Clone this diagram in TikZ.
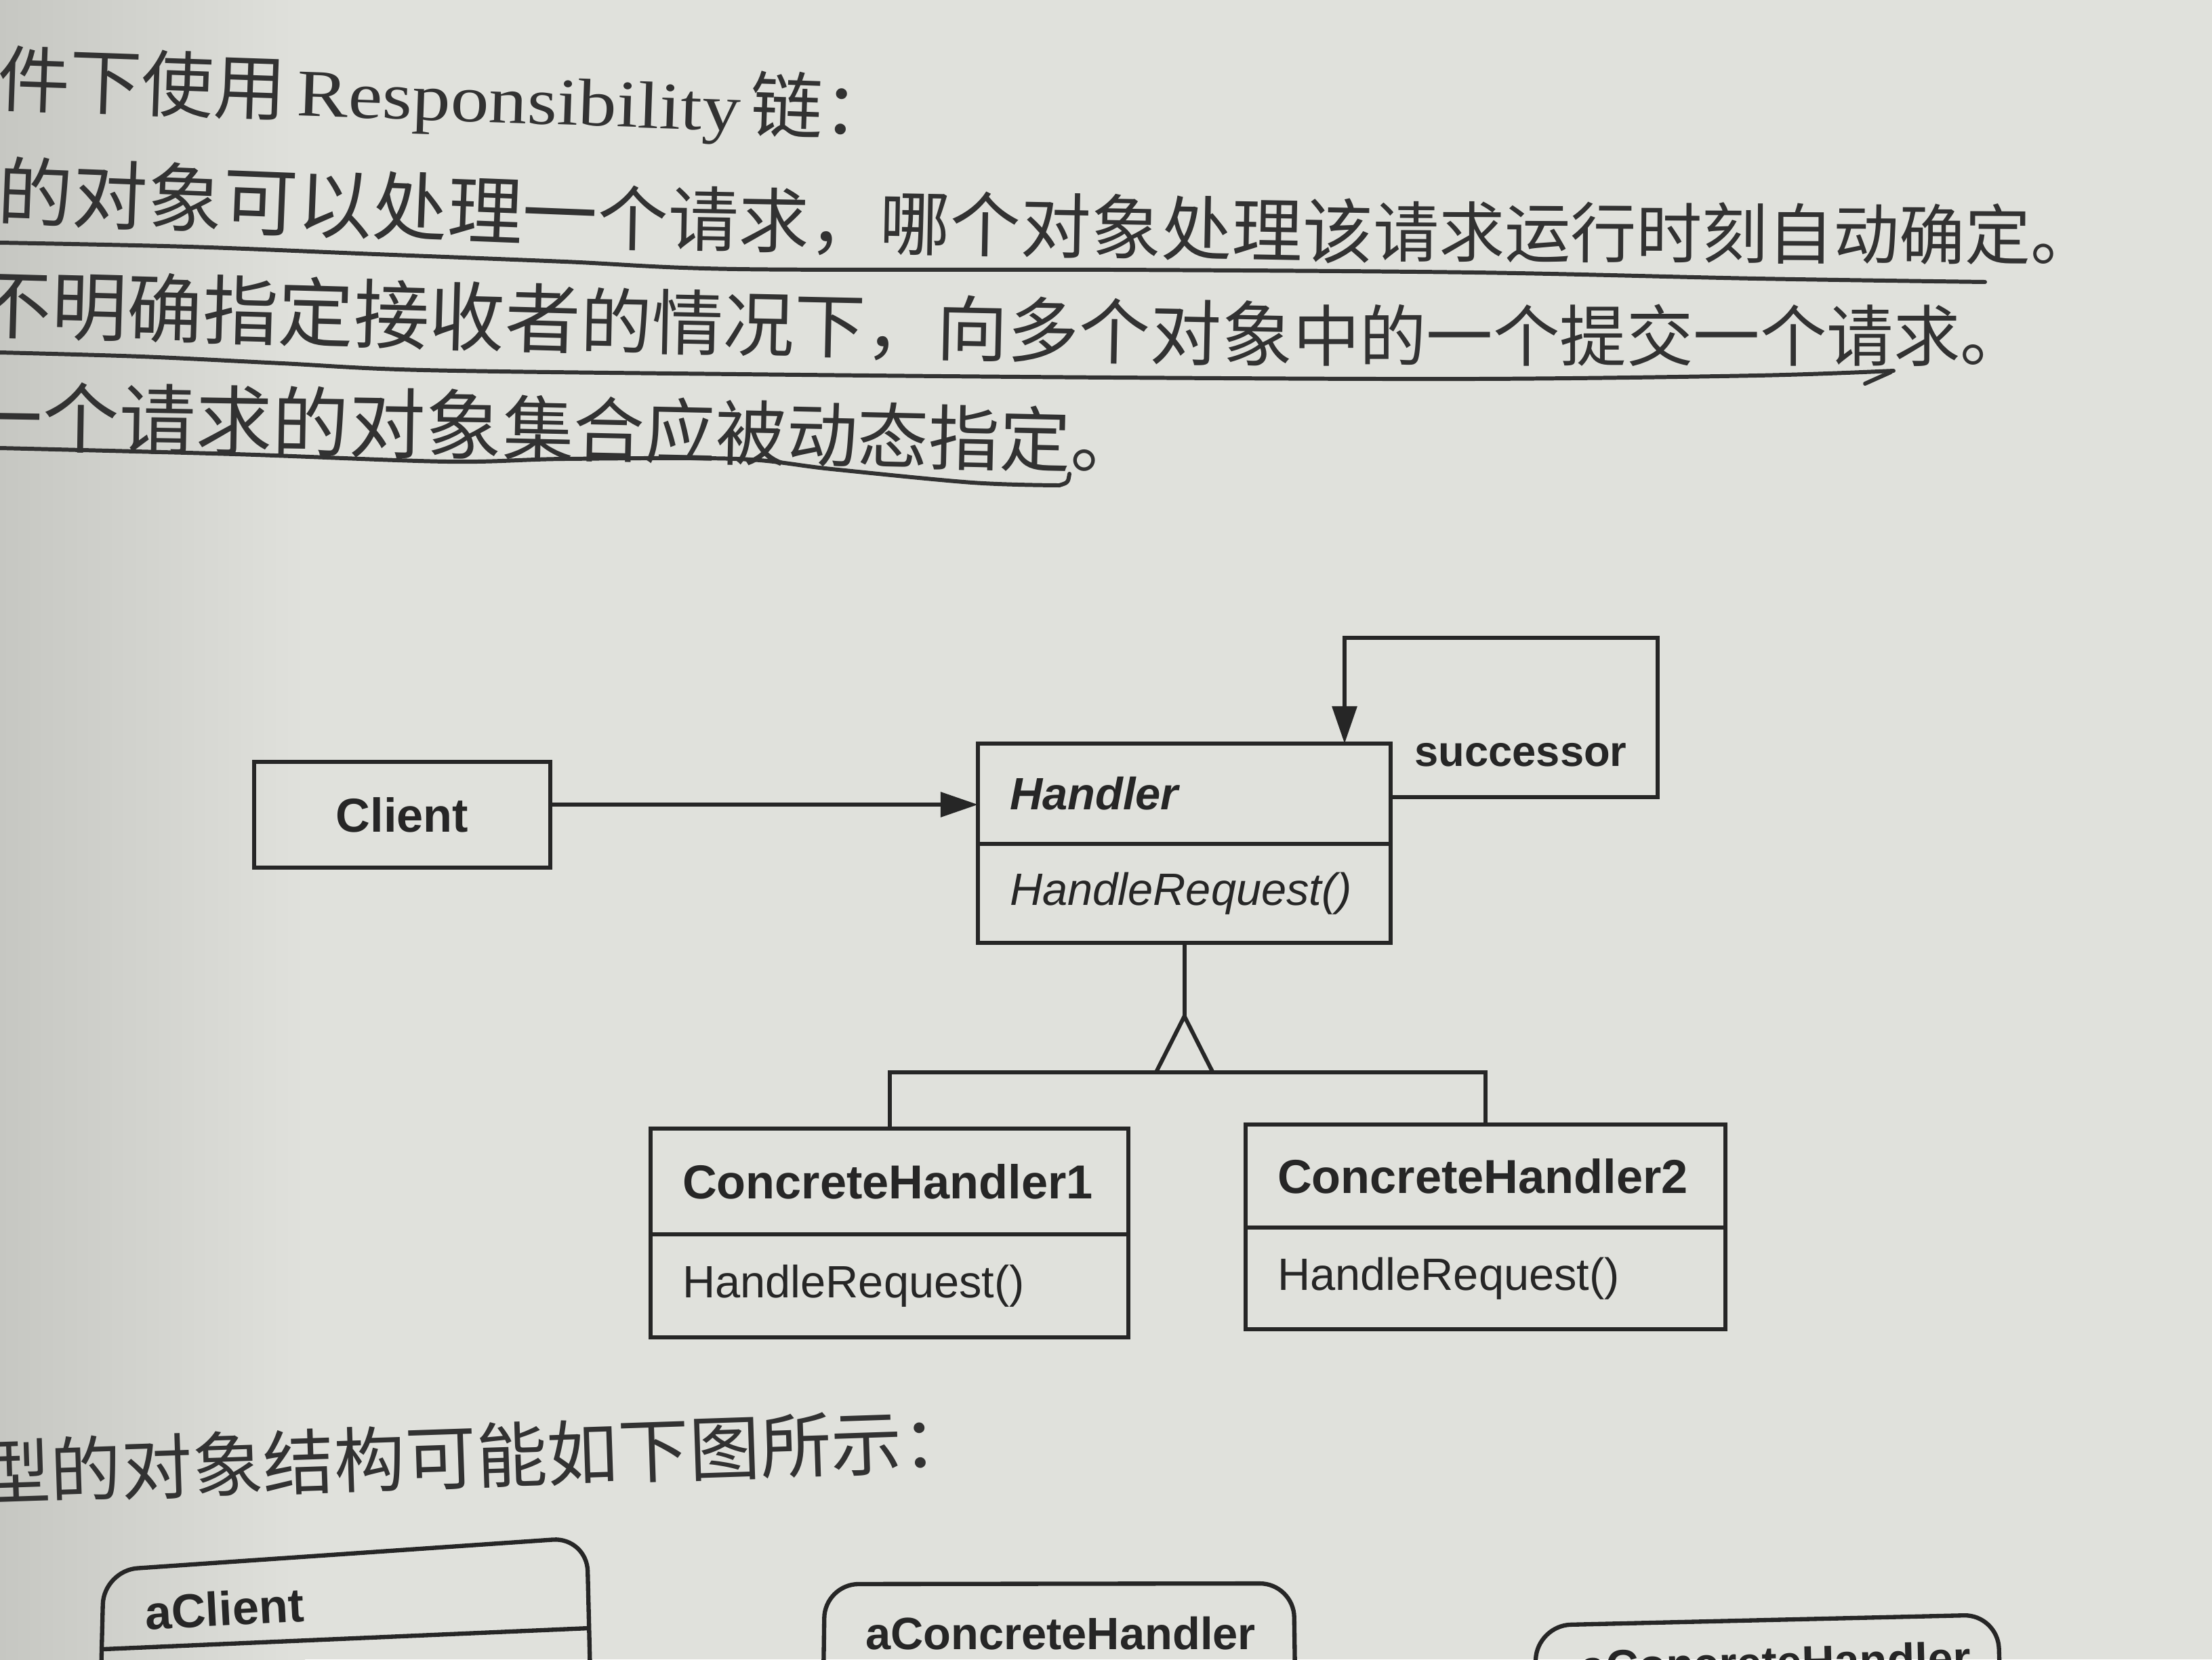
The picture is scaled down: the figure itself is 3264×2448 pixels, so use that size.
\documentclass[tikz,border=0pt]{standalone}
\usepackage{fontspec}
\setmainfont{Liberation Serif}
\setsansfont{Liberation Sans}
\newfontfamily\cjk{Noto Sans CJK SC}
\usetikzlibrary{arrows.meta}
\definecolor{paper}{RGB}{224,225,220}
\definecolor{paperdark}{RGB}{198,199,194}
\definecolor{ink}{RGB}{38,38,38}
\definecolor{textink}{RGB}{50,50,50}
\newcommand{\cjksize}[1]{\cjk\fontsize{#1}{#1}\selectfont}
\tikzset{
  cn/.style={text=textink, inner sep=0pt, outer sep=0pt, anchor=base west},
  umlbox/.style={draw=ink, line width=1.7pt, inner sep=0pt, outer sep=0pt},
  conn/.style={draw=ink, line width=1.7pt},
  hand/.style={draw=textink, line width=1.7pt, line cap=round, line join=round},
  lbl/.style={font=\sffamily\bfseries\fontsize{20}{22}\selectfont, text=ink},
  meth/.style={font=\sffamily\fontsize{19}{21}\selectfont, text=ink},
  tip/.style={-{Triangle[length=0.55cm,width=0.36cm]}},
  objbox/.style={draw=ink, line width=1.8pt, rounded corners=0.5cm},
  objlbl/.style={font=\sffamily\bfseries\fontsize{19}{21}\selectfont, text=ink},
}
\begin{document}
\begin{tikzpicture}[x=0.01cm,y=-0.01cm]
\fill[paper] (0,0) rectangle (3264,2448);
\useasboundingbox (0,0) rectangle (3264,2448);
\clip (0,0) rectangle (3264,2448);
\shade[left color=paperdark, right color=paper] (0,0) rectangle (450,2448);

% ---- text lines (split in pieces to follow the page curl) ----
\node[cn, rotate=-2, font=\cjksize{30.3}] (t1) at (-5,155)
  {件下使用\hspace{0.17cm}\scalebox{1.15}[1]{\rmfamily\fontsize{28}{28}\selectfont Responsibility}\hspace{0.15cm}链：};

\node[cn, rotate=-2.26, font=\cjksize{31.5}] (t2a) at (-5,323) {的对象可以处理一};
\node[cn, rotate=-1.05, font=\cjksize{29.6}] (t2b) at (881,360) {个请求，哪个对象处理该};
\node[cn, rotate=-0.3, font=\cjksize{27.6}] (t2c) at (2026,378) {请求运行时刻自动确定。};

\node[cn, rotate=-1.6, font=\cjksize{31.7}] (t3a) at (-36,489) {不明确指定接收者};
\node[cn, rotate=-1.2, font=\cjksize{29.9}] (t3b) at (856,512) {的情况下，向多个对象};
\node[cn, font=\cjksize{28.0}] (t3c) at (1908,532) {中的一个提交一个请求。};

\node[cn, rotate=-0.95, font=\cjksize{32.1}] (t4a) at (-50,657) {一个请求的对象};
\node[cn, rotate=-1.28, font=\cjksize{29.8}] (t4b) at (741,670) {集合应被动态指定。};

\node[cn, rotate=1.9, font=\cjksize{29.8}] (t5) at (-29,2212) {型的对象结构可能如下图所示：};

% ---- hand-drawn underlines ----
\draw[hand] plot[smooth, tension=0.55] coordinates {(0,358) (278,364) (555,375) (833,386) (1088,397) (1643,398) (2176,402) (2592,411) (2929,416)};
\draw[hand] plot[smooth, tension=0.55] coordinates {(0,520) (208,526) (416,536) (625,546) (1088,552) (1643,557) (2176,559) (2592,554) (2794,547)};
\draw[hand] (2790,549) -- (2752,566);
\draw[hand] plot[smooth, tension=0.55] coordinates {(0,661) (347,670) (660,681) (833,677) (1088,677) (1227,692) (1435,712) (1563,716)};
\draw[hand] (1563,716) .. controls (1576,712) .. (1578,699);

% ---- class diagram ----
\node[umlbox, lbl, minimum width=4.37cm, minimum height=1.56cm] (client) at (593.5,1202) {Client};

\node[umlbox, anchor=north west, minimum width=6.09cm, minimum height=1.48cm,
      text width=5.15cm, inner xsep=0.47cm, align=left,
      font=\sffamily\bfseries\itshape\fontsize{19}{21}\selectfont, text=ink] (hname) at (1443,1097) {Handler};
\node[umlbox, anchor=north west, minimum width=6.09cm, minimum height=1.46cm,
      text width=5.15cm, inner xsep=0.47cm, align=left,
      font=\sffamily\itshape\fontsize{19}{21}\selectfont, text=ink] (hops) at (hname.south west) {HandleRequest()};

\node[umlbox, lbl, anchor=north west, minimum width=7.05cm, minimum height=1.56cm,
      text width=6.11cm, inner xsep=0.47cm, align=left] (c1name) at (960,1665) {ConcreteHandler1};
\node[umlbox, meth, anchor=north west, minimum width=7.05cm, minimum height=1.52cm,
      text width=6.11cm, inner xsep=0.47cm, align=left] (c1ops) at (c1name.south west) {HandleRequest()};

\node[umlbox, lbl, anchor=north west, minimum width=7.08cm, minimum height=1.52cm,
      text width=6.14cm, inner xsep=0.47cm, align=left] (c2name) at (1838,1659) {ConcreteHandler2};
\node[umlbox, meth, anchor=north west, minimum width=7.08cm, minimum height=1.50cm,
      text width=6.14cm, inner xsep=0.47cm, align=left] (c2ops) at (c2name.south west) {HandleRequest()};

% client -> handler
\coordinate (ca) at ([yshift=0.15cm]client.east);
\draw[conn, tip] (ca) -- (ca -| hname.west);

% successor self-association
\coordinate (sr) at (2446,941);
\coordinate (sl) at (1984,941);
\draw[conn, tip] ([yshift=-0.05cm]hname.east) -| (sr) -- (sl) -- (sl |- hname.north);
\node[font=\sffamily\bfseries\fontsize{18}{20}\selectfont, text=ink] (succ) at (2244,1114) {successor};

% inheritance
\coordinate (apex) at ([yshift=-1.08cm]hops.south);
\coordinate (bar) at ([yshift=-1.91cm]hops.south);
\draw[conn] (hops.south) -- (apex);
\draw[conn] ([xshift=-0.42cm,yshift=-0.83cm]apex) -- (apex) -- ([xshift=0.42cm,yshift=-0.83cm]apex);
\draw[conn] (c1name.north) |- (bar) -| (c2name.north);

% ---- object boxes (partly visible at bottom) ----
\draw[objbox] (149,2475) -- (153,2317) -- (866,2268) -- (871,2475);
\draw[conn, line width=1.8pt] (153,2433) -- (869,2402);
\node[objlbl, font=\sffamily\bfseries\fontsize{20}{22}\selectfont, rotate=3] (ac) at (331,2373) {aClient};

\draw[objbox] (1215,2475) -- (1217,2337) -- (1909,2336) -- (1911,2475);
\node[objlbl] (ach1) at (1565,2410) {aConcreteHandler};

\draw[objbox] (2265,2475) -- (2268,2398) -- (2948,2382) -- (2951,2475);
\node[objlbl, rotate=1.3] (ach2) at (2620,2452) {aConcreteHandler};
\end{tikzpicture}
\end{document}
